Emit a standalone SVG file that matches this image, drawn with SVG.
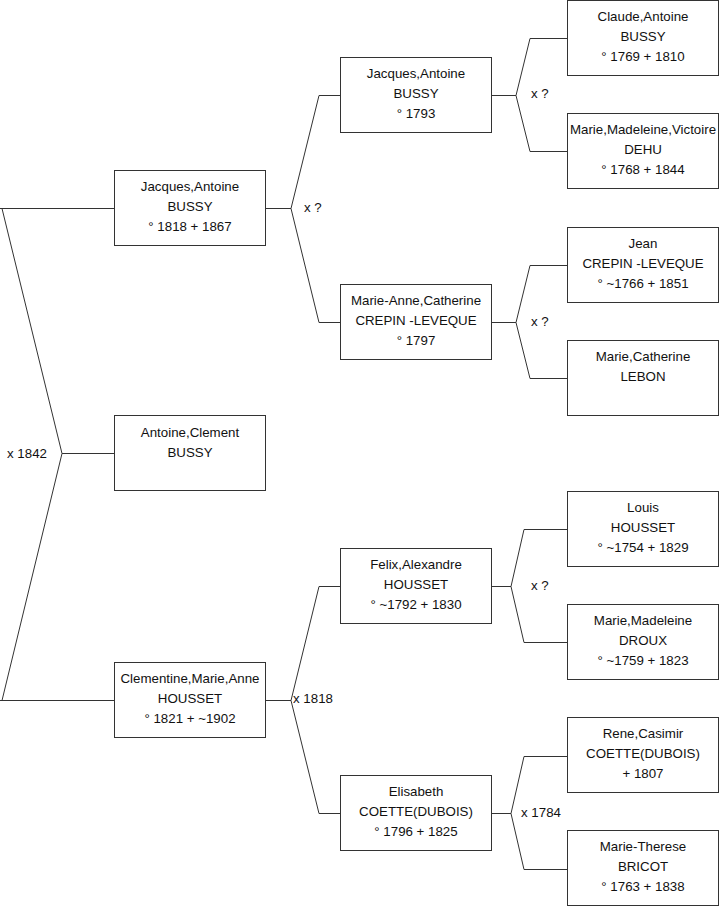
<svg xmlns="http://www.w3.org/2000/svg" width="719" height="908" viewBox="0 0 719 908">
<style>
rect{fill:#fff;stroke:#333;stroke-width:1}
text{font-family:"Liberation Sans",Arial,sans-serif;font-size:13.3px;fill:#111}
.n text{text-anchor:middle}
#connectors path{fill:none;stroke:#333;stroke-width:1}
</style>
<rect x="0" y="0" width="719" height="908" style="stroke:none"/>
<g id="connectors">
<path d="M0,208.5H114.5M0,700.5H114.5M2,208.5L62,453.5L2,700.5M62,453.5H114.5"/>
<path d="M265.5,208.5H291M319,95.5L291,208.5L319,322.5M319,95.5H340.5M319,322.5H340.5"/>
<path d="M265.5,700.5H291M319,586.5L291,700.5L319,813.5M319,586.5H340.5M319,813.5H340.5"/>
<path d="M491.5,95.5H516M530,38.5L516,95.5L530,151.5M530,38.5H567.5M530,151.5H567.5"/>
<path d="M491.5,322.5H516M530,265.5L516,322.5L530,378.5M530,265.5H567.5M530,378.5H567.5"/>
<path d="M491.5,586.5H511M524,529.5L511,586.5L524,642.5M524,529.5H567.5M524,642.5H567.5"/>
<path d="M491.5,813.5H511M524,756.5L511,813.5L524,869.5M524,756.5H567.5M524,869.5H567.5"/>
</g>
<g id="labels">
<text x="7" y="458">x 1842</text>
<text x="304" y="212">x ?</text>
<text x="293" y="703">x 1818</text>
<text x="531" y="98">x ?</text>
<text x="531" y="326">x ?</text>
<text x="531" y="590">x ?</text>
<text x="521" y="817">x 1784</text>
</g>
<g id="n1" class="n"><rect x="114.5" y="170.5" width="151" height="75"/><text x="190" y="191">Jacques,Antoine</text><text x="190" y="211">BUSSY</text><text x="190" y="231">° 1818 + 1867</text></g>
<g id="n2" class="n"><rect x="114.5" y="415.5" width="151" height="75"/><text x="190" y="437">Antoine,Clement</text><text x="190" y="457">BUSSY</text></g>
<g id="n3" class="n"><rect x="114.5" y="662.5" width="151" height="75"/><text x="190" y="683">Clementine,Marie,Anne</text><text x="190" y="703">HOUSSET</text><text x="190" y="723">° 1821 + ~1902</text></g>
<g id="n4" class="n"><rect x="340.5" y="57.5" width="151" height="75"/><text x="416" y="78">Jacques,Antoine</text><text x="416" y="98">BUSSY</text><text x="416" y="118">° 1793</text></g>
<g id="n5" class="n"><rect x="340.5" y="284.5" width="151" height="75"/><text x="416" y="305">Marie-Anne,Catherine</text><text x="416" y="325">CREPIN -LEVEQUE</text><text x="416" y="345">° 1797</text></g>
<g id="n6" class="n"><rect x="340.5" y="548.5" width="151" height="75"/><text x="416" y="569">Felix,Alexandre</text><text x="416" y="589">HOUSSET</text><text x="416" y="609">° ~1792 + 1830</text></g>
<g id="n7" class="n"><rect x="340.5" y="775.5" width="151" height="75"/><text x="416" y="796">Elisabeth</text><text x="416" y="816">COETTE(DUBOIS)</text><text x="416" y="836">° 1796 + 1825</text></g>
<g id="n8" class="n"><rect x="567.5" y="0.5" width="151" height="75"/><text x="643" y="21">Claude,Antoine</text><text x="643" y="41">BUSSY</text><text x="643" y="61">° 1769 + 1810</text></g>
<g id="n9" class="n"><rect x="567.5" y="113.5" width="151" height="75"/><text x="643" y="134">Marie,Madeleine,Victoire</text><text x="643" y="154">DEHU</text><text x="643" y="174">° 1768 + 1844</text></g>
<g id="n10" class="n"><rect x="567.5" y="227.5" width="151" height="75"/><text x="643" y="248">Jean</text><text x="643" y="268">CREPIN -LEVEQUE</text><text x="643" y="288">° ~1766 + 1851</text></g>
<g id="n11" class="n"><rect x="567.5" y="340.5" width="151" height="75"/><text x="643" y="361">Marie,Catherine</text><text x="643" y="381">LEBON</text></g>
<g id="n12" class="n"><rect x="567.5" y="491.5" width="151" height="75"/><text x="643" y="512">Louis</text><text x="643" y="532">HOUSSET</text><text x="643" y="552">° ~1754 + 1829</text></g>
<g id="n13" class="n"><rect x="567.5" y="604.5" width="151" height="75"/><text x="643" y="625">Marie,Madeleine</text><text x="643" y="645">DROUX</text><text x="643" y="665">° ~1759 + 1823</text></g>
<g id="n14" class="n"><rect x="567.5" y="717.5" width="151" height="75"/><text x="643" y="738">Rene,Casimir</text><text x="643" y="758">COETTE(DUBOIS)</text><text x="643" y="778">+ 1807</text></g>
<g id="n15" class="n"><rect x="567.5" y="830.5" width="151" height="75"/><text x="643" y="851">Marie-Therese</text><text x="643" y="871">BRICOT</text><text x="643" y="891">° 1763 + 1838</text></g>
</svg>
